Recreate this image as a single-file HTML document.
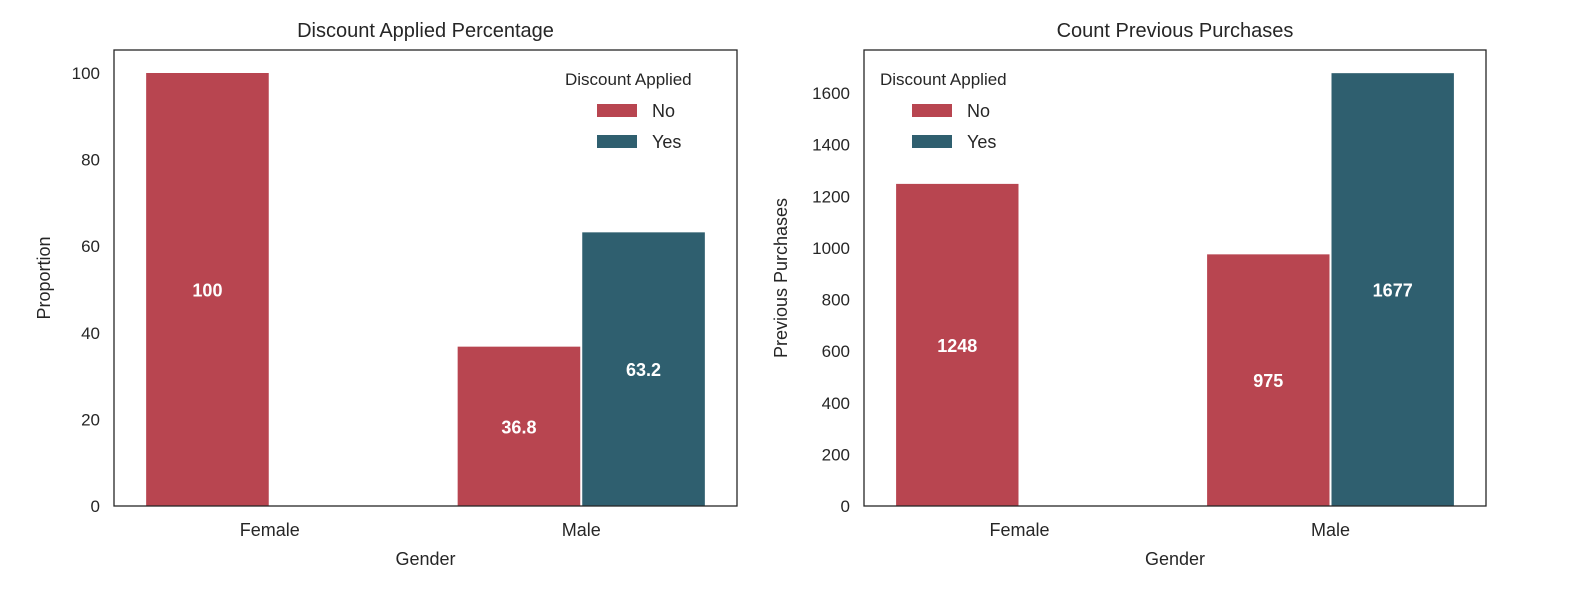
<!DOCTYPE html>
<html><head><meta charset="utf-8"><style>
body{margin:0;background:#fff;font-family:"Liberation Sans",Arial,sans-serif;}
svg text{font-family:"Liberation Sans",Arial,sans-serif;fill:#262626;}
</style></head><body>
<svg id="c" width="1594" height="607" xmlns="http://www.w3.org/2000/svg"></svg>
<script>
const categories = ["Female","Male"];
const hues = ["No","Yes"];
const leftNo = [100, 36.8];
const leftYes = [0, 63.2];
const leftLabels = [["100","36.8"],["","63.2"]];
const leftTicks = [0,20,40,60,80,100];
const rightNo = [1248, 975];
const rightYes = [0, 1677];
const rightLabels = [["1248","975"],["","1677"]];
const rightTicks = [0,200,400,600,800,1000,1200,1400,1600];
const colors = ["#b84550","#2f5f6f"];
const NS="http://www.w3.org/2000/svg";
const svg=document.getElementById('c');
function mk(tag,attrs,parent,text){const e=document.createElementNS(NS,tag);for(const k in attrs)e.setAttribute(k,attrs[k]);if(text!==undefined)e.textContent=text;(parent||svg).appendChild(e);return e;}
function panel(o){
  const g=mk('g',{});
  
  
  const L=o.x0,R=o.x1,T=50,B=506;
  const xs=v=>L+(v+0.5)/2*(R-L);
  const ys=v=>B-v*o.scale;
  // bars
  [o.no,o.yes].forEach((ser,h)=>{
    ser.forEach((v,i)=>{
      if(v<=0)return;
      const c=xs(i);const x=h===0?c-0.4*(R-L)/2:c;const w=0.4*(R-L)/2;
      const r=mk('rect',{x:x+1,y:ys(v),width:w-2,height:B-ys(v),fill:colors[h]},g);
      
      
      const lab=o.labels[h][i];
      if(lab){const t=mk('text',{x:x+w/2,y:(ys(v)+B)/2+7,'text-anchor':'middle','font-size':'18','font-weight':'bold',style:'fill:#fff'},g,lab);
        
        }
    });
  });
  const fr=mk('rect',{x:L,y:T,width:R-L,height:B-T,fill:'none',stroke:'#262626','stroke-width':1.3},g);
  
  
  o.ticks.forEach(t=>{const e=mk('text',{x:L-14,y:ys(t)+6,'text-anchor':'end','font-size':'17'},g,String(t));
    
    });
  categories.forEach((c,i)=>{const e=mk('text',{x:xs(i),y:536,'text-anchor':'middle','font-size':'18'},g,c);
    
    });
  let e=mk('text',{x:(L+R)/2,y:565,'text-anchor':'middle','font-size':'18'},g,'Gender');
  
  
  e=mk('text',{x:0,y:0,'text-anchor':'middle','font-size':'18',transform:`translate(${o.ytx},278) rotate(-90)`},g,o.ytitle);
  
  
  e=mk('text',{x:(L+R)/2,y:37,'text-anchor':'middle','font-size':'20'},g,o.title);
  
  
  const lg=mk('g',{},g);
  
  
  e=mk('text',{x:o.lx,y:85,'font-size':'17'},lg,'Discount Applied');
  
  
  hues.forEach((h,k)=>{
    e=mk('rect',{x:o.lx+32,y:104+k*31,width:40,height:13,fill:colors[k]},lg);
    
    
    e=mk('text',{x:o.lx+87,y:117+k*31,'font-size':'18'},lg,h);
    
    
  });
}
panel({name:'discount-percentage-panel',x0:114,x1:737,scale:4.33,no:leftNo,yes:leftYes,labels:leftLabels,ticks:leftTicks,title:'Discount Applied Percentage',ytitle:'Proportion',ytx:50,lx:565});
panel({name:'previous-purchases-panel',x0:864,x1:1486,scale:0.2581,no:rightNo,yes:rightYes,labels:rightLabels,ticks:rightTicks,title:'Count Previous Purchases',ytitle:'Previous Purchases',ytx:787,lx:880});
</script>
</body></html>
